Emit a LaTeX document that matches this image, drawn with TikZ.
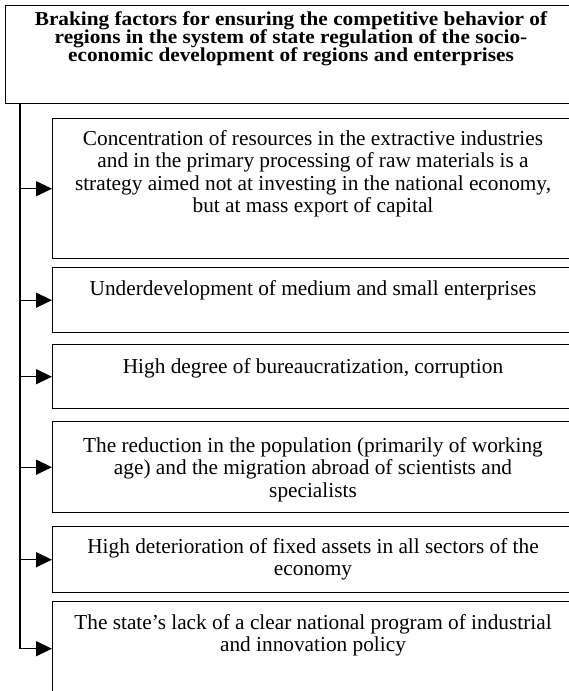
\documentclass[tikz,border=0pt]{standalone}
\usepackage{fontspec}
\setmainfont{Liberation Serif}
\newfontfamily\widetitle[FakeStretch=1.08]{Liberation Serif}
\usetikzlibrary{arrows.meta}
\newcommand\mytitlefont{\widetitle\fontsize{19.7}{18}\selectfont\bfseries\lineskiplimit=-100pt\relax\lineskip=0pt\relax}
\begin{document}
\begin{tikzpicture}[x=1pt,y=-1pt,
  box/.style={draw, line width=1.4pt, anchor=north west, inner sep=0pt, minimum width=600pt},
  txt/.style={anchor=north, align=center, font=\fontsize{21.3}{22.3}\selectfont, inner sep=0pt},
  ttl/.style={anchor=north, align=center, font=\mytitlefont, inner sep=0pt},
  arr/.style={line width=1.4pt, -{Triangle[length=16pt,width=15pt]}},
  spine/.style={line width=1.4pt}]
\useasboundingbox (0,0) rectangle (569,691);
\clip (0,0) rectangle (569,691);
\node[box, minimum height=98pt] (b0) at (5,5) {};
\node[box, minimum height=140pt] (b1) at (52,118) {};
\node[box, minimum height=65pt] (b2) at (52,267) {};
\node[box, minimum height=64pt] (b3) at (52,344) {};
\node[box, minimum height=91pt] (b4) at (52,421) {};
\node[box, minimum height=66pt] (b5) at (52,526) {};
\node[box, minimum height=94pt] (b6) at (52,601) {};
\node[ttl] (t0) at (291,11) {Braking factors for ensuring the competitive behavior of\\regions in the system of state regulation of the socio-\\economic development of regions and enterprises};
\node[txt] (t1) at (313,130.3) {Concentration of resources in the extractive industries\\and in the primary processing of raw materials is a\\strategy aimed not at investing in the national economy,\\but at mass export of capital};
\node[txt] (t2) at (313,280.3) {Underdevelopment of medium and small enterprises};
\node[txt] (t3) at (313,358.3) {High degree of bureaucratization, corruption};
\node[txt] (t4) at (313,437.3) {The reduction in the population (primarily of working\\age) and the migration abroad of scientists and\\specialists};
\node[txt] (t5) at (313,538.3) {High deterioration of fixed assets in all sectors of the\\economy};
\node[txt] (t6) at (313,614.3) {The state’s lack of a clear national program of industrial\\and innovation policy};
\coordinate (s0) at (20,103);
\coordinate (s1) at (s0 |- b6.west);
\draw[spine] (s0) -- (s1);
\draw[arr] (s1) -- (b6.west);
\foreach \i in {1,...,5} \draw[arr] (s0 |- b\i.west) -- (b\i.west);
\end{tikzpicture}
\end{document}
